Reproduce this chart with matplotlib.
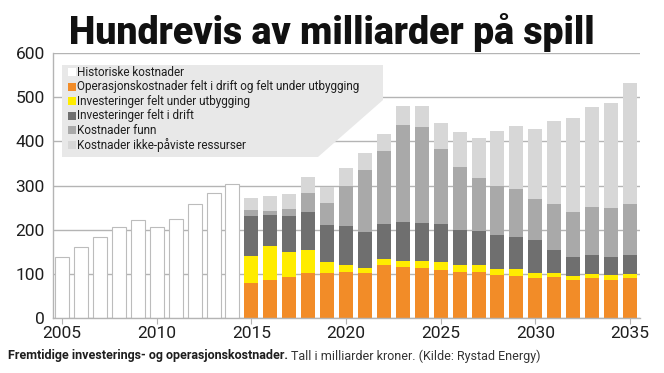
import matplotlib
matplotlib.use("Agg")
import matplotlib.pyplot as plt
from matplotlib.patches import Polygon, Rectangle
import numpy as np

# ── Data (milliarder kroner) ─────────────────────────────────────────────────
hist_years = list(range(2005, 2015))
hist_costs = [137, 161, 184, 207, 223, 207, 225, 259, 284, 304]

years = list(range(2015, 2036))
drift = [79, 87, 93, 101, 102, 104, 103, 120, 115, 114, 109,
         104, 104, 97, 96, 91, 92, 85, 91, 87, 91]
inv_utbygging = [62, 77, 57, 52, 24, 17, 11, 13, 15, 15, 17,
                 17, 17, 15, 14, 12, 11, 9, 9, 10, 9]
inv_drift = [91, 70, 80, 87, 85, 88, 81, 80, 87, 87, 86,
             79, 75, 75, 73, 73, 52, 45, 43, 40, 42]
funn = [13, 9, 17, 43, 49, 89, 140, 164, 219, 216, 170,
        143, 120, 111, 110, 94, 103, 100, 109, 112, 115]
ikke_pavist = [27, 33, 34, 37, 37, 41, 39, 40, 43, 47, 59,
               78, 92, 126, 141, 159, 187, 214, 225, 238, 274]

series = [
    ("Operasjonskostnader felt i drift og felt under utbygging", drift, "#f28c28"),
    ("Investeringer felt under utbygging", inv_utbygging, "#ffec00"),
    ("Investeringer felt i drift", inv_drift, "#6f6f6f"),
    ("Kostnader funn", funn, "#a9a9a9"),
    ("Kostnader ikke-påviste ressurser", ikke_pavist, "#d7d7d7"),
]

GRID = "#b4b4b4"
TEXT = "#1e1e1e"
FONT = "Roboto"

W, H = 664, 373
fig = plt.figure(figsize=(W / 100, H / 100), dpi=100)
ax = fig.add_axes([53 / W, 55 / H, 587 / W, 265 / H])

bar_w = 0.74
ax.bar(hist_years, hist_costs, width=bar_w, color="white",
       edgecolor="#bcbcbc", linewidth=0.8, zorder=2)

bottom = np.zeros(len(years))
for label, vals, color in series:
    ax.bar(years, vals, width=bar_w, bottom=bottom, color=color,
           linewidth=0, zorder=2)
    bottom += np.array(vals)

ax.set_xlim(2004.52, 2035.53)
ax.set_ylim(0, 600)
ax.set_yticks(range(0, 601, 100))
ax.set_xticks(range(2005, 2036, 5))
ax.grid(axis="y", color=GRID, linewidth=1.0, zorder=0)
for side in ("top", "right"):
    ax.spines[side].set_visible(False)
for side in ("left", "bottom"):
    ax.spines[side].set_color(GRID)
    ax.spines[side].set_linewidth(1.0)
ax.tick_params(axis="y", length=0, pad=6, labelsize=12.5, labelcolor=TEXT)
ax.tick_params(axis="x", length=4, color=GRID, pad=2, labelsize=12.5,
               labelcolor=TEXT)
for lbl in ax.get_xticklabels() + ax.get_yticklabels():
    lbl.set_fontfamily(FONT)

# ── Legend box with cut corner ───────────────────────────────────────────────
def px(x, y):
    return (x / W, 1 - y / H)

poly = Polygon([px(62, 65), px(383, 65), px(383, 100), px(318, 157), px(62, 157)],
               closed=True, transform=fig.transFigure, facecolor="#e8e8e8",
               edgecolor="none", zorder=3)
fig.patches.append(poly)

legend_items = [("Historiske kostnader", "white")] + [(s[0], s[2]) for s in series]
for i, (label, color) in enumerate(legend_items):
    yc = 72 + i * 14.6
    fig.patches.append(Rectangle(px(68, yc + 4), 8 / W, 8 / H,
                                 transform=fig.transFigure, facecolor=color,
                                 edgecolor="none", zorder=4))
    fig.text(77 / W, 1 - yc / H, label, fontsize=8.5, family=FONT,
             color=TEXT, va="center", ha="left", zorder=5)

# ── Title and caption ────────────────────────────────────────────────────────
fig.text(0.5, 1 - 44 / H, "Hundrevis av milliarder på spill",
         fontsize=27, fontweight="black", family=["Liberation Sans Narrow", FONT],
         color="#111111", ha="center", va="baseline")

t1 = fig.text(8 / W, 1 - 356 / H, "Fremtidige investerings- og operasjonskostnader. ",
              fontsize=9, fontweight="bold", family=FONT, color=TEXT,
              va="center", ha="left")
fig.canvas.draw()
bb = t1.get_window_extent()
fig.text(bb.x1 / W, 1 - 356 / H, "Tall i milliarder kroner. (Kilde: Rystad Energy)",
         fontsize=9, family=FONT, color="#333333", va="center", ha="left")

fig.savefig("out.png", dpi=100)
